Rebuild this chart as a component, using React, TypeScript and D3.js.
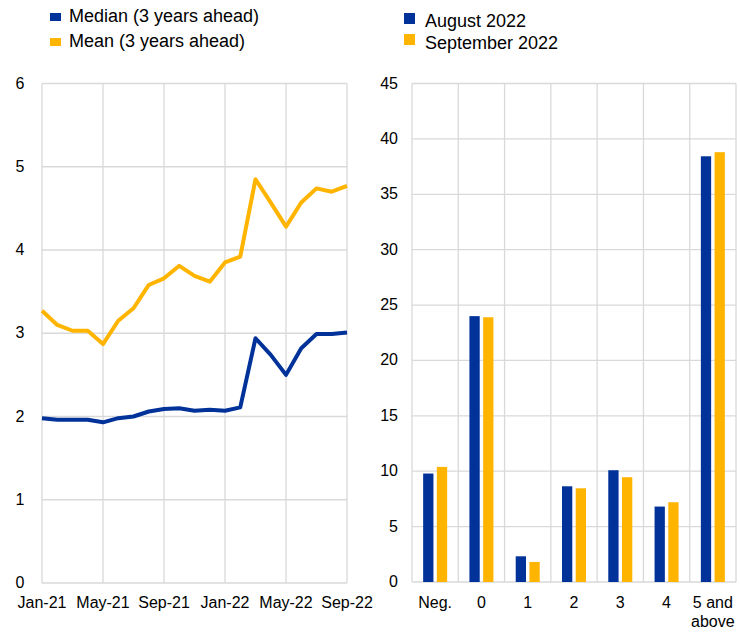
import React from 'react';
import * as d3 from 'd3';

const months = ['Jan-21','Feb-21','Mar-21','Apr-21','May-21','Jun-21','Jul-21','Aug-21','Sep-21','Oct-21','Nov-21','Dec-21',
  'Jan-22','Feb-22','Mar-22','Apr-22','May-22','Jun-22','Jul-22','Aug-22','Sep-22'];
const medianValues = [1.98, 1.96, 1.96, 1.96, 1.93, 1.98, 2.0, 2.06, 2.09, 2.1, 2.07, 2.08, 2.07, 2.11, 2.94, 2.74, 2.5, 2.82, 2.99, 2.99, 3.01];
const meanValues = [3.27, 3.1, 3.03, 3.03, 2.87, 3.15, 3.3, 3.58, 3.66, 3.81, 3.69, 3.62, 3.85, 3.92, 4.85, 4.57, 4.28, 4.57, 4.74, 4.7, 4.77];
const monthTicks = ['Jan-21', 'May-21', 'Sep-21', 'Jan-22', 'May-22', 'Sep-22'];
const leftYTicks = [0, 1, 2, 3, 4, 5, 6];

const categories = ['Neg.', '0', '1', '2', '3', '4', '5 and above'];
const august2022 = [9.79, 24.0, 2.32, 8.64, 10.09, 6.81, 38.43];
const september2022 = [10.39, 23.9, 1.81, 8.46, 9.46, 7.2, 38.8];
const rightYTicks = [0, 5, 10, 15, 20, 25, 30, 35, 40, 45];

const BLUE = '#003299';
const YELLOW = '#ffb400';
const GRID = '#d9d9d9';
const FONT = 'Arial, "Liberation Sans", sans-serif';

export default function App() {
  // left panel
  const x = d3.scalePoint<string>().domain(months).range([42, 347]);
  const y = d3.scaleLinear().domain([0, 6]).range([583, 83.5]);
  const line = d3.line<number>().x((_, i) => x(months[i])!).y(d => y(d));

  // right panel
  const xb = d3.scaleBand<string>().domain(categories).range([412, 736]);
  const yb = d3.scaleLinear().domain([0, 45]).range([582, 83.5]);
  const inner = d3.scaleBand<string>().domain(['aug', 'sep']).range([0, 24]).paddingInner(0.25);
  const bandEdges = categories.map(c => xb(c)!).concat([xb.range()[1]]);

  return (
    <svg width={740} height={633} style={{ position: 'absolute', left: 0, top: 0, background: '#fff' }} fontFamily={FONT}>
      {/* legends */}
      <rect x={50} y={13} width={11} height={8} fill={BLUE} />
      <text x={69} y={22} fontSize={18} fill="#000">Median (3 years ahead)</text>
      <rect x={50} y={38} width={11} height={8} fill={YELLOW} />
      <text x={69} y={47} fontSize={18} fill="#000">Mean (3 years ahead)</text>
      <rect x={404} y={13} width={11} height={11} fill={BLUE} />
      <text x={425} y={27} fontSize={18} fill="#000">August 2022</text>
      <rect x={404} y={34} width={11} height={11} fill={YELLOW} />
      <text x={425} y={49} fontSize={18} fill="#000">September 2022</text>

      {/* left grid */}
      {leftYTicks.map(t => (
        <line key={'lg' + t} x1={x.range()[0]} x2={x.range()[1]} y1={y(t)} y2={y(t)} stroke={GRID} strokeWidth={1.3} />
      ))}
      {monthTicks.map(m => (
        <line key={'lv' + m} x1={x(m)} x2={x(m)} y1={y(0)} y2={y(6)} stroke={GRID} strokeWidth={1.3} />
      ))}
      {leftYTicks.map(t => (
        <text key={'ly' + t} x={20} y={y(t) + 5} fontSize={16} textAnchor="middle" fill="#000">{t}</text>
      ))}
      {monthTicks.map(m => (
        <text key={'lx' + m} x={x(m)} y={608} fontSize={16} textAnchor="middle" fill="#000">{m}</text>
      ))}
      <path d={line(meanValues)!} fill="none" stroke={YELLOW} strokeWidth={4} strokeLinejoin="round" />
      <path d={line(medianValues)!} fill="none" stroke={BLUE} strokeWidth={4} strokeLinejoin="round" />

      {/* right grid */}
      {rightYTicks.map(t => (
        <line key={'rg' + t} x1={xb.range()[0]} x2={xb.range()[1]} y1={yb(t)} y2={yb(t)} stroke={GRID} strokeWidth={1.3} />
      ))}
      {bandEdges.map((e, i) => (
        <line key={'rv' + i} x1={e} x2={e} y1={yb(0)} y2={yb(45)} stroke={GRID} strokeWidth={1.3} />
      ))}
      {rightYTicks.map(t => (
        <text key={'ry' + t} x={398} y={yb(t) + 5} fontSize={16} textAnchor="end" fill="#000">{t}</text>
      ))}
      {categories.map((c, i) => {
        const cx = xb(c)! + xb.bandwidth() / 2;
        const x0 = cx - 12;
        return (
          <g key={'bar' + c}>
            <rect x={x0 + inner('aug')!} y={yb(august2022[i])} width={inner.bandwidth()} height={yb(0) - yb(august2022[i])} fill={BLUE} />
            <rect x={x0 + inner('sep')!} y={yb(september2022[i])} width={inner.bandwidth()} height={yb(0) - yb(september2022[i])} fill={YELLOW} />
            {c === '5 and above' ? (
              <text x={cx} y={608} fontSize={16} textAnchor="middle" fill="#000">
                <tspan x={cx} dy={0}>5 and</tspan>
                <tspan x={cx} dy={19}>above</tspan>
              </text>
            ) : (
              <text x={cx} y={608} fontSize={16} textAnchor="middle" fill="#000">{c}</text>
            )}
          </g>
        );
      })}
    </svg>
  );
}
